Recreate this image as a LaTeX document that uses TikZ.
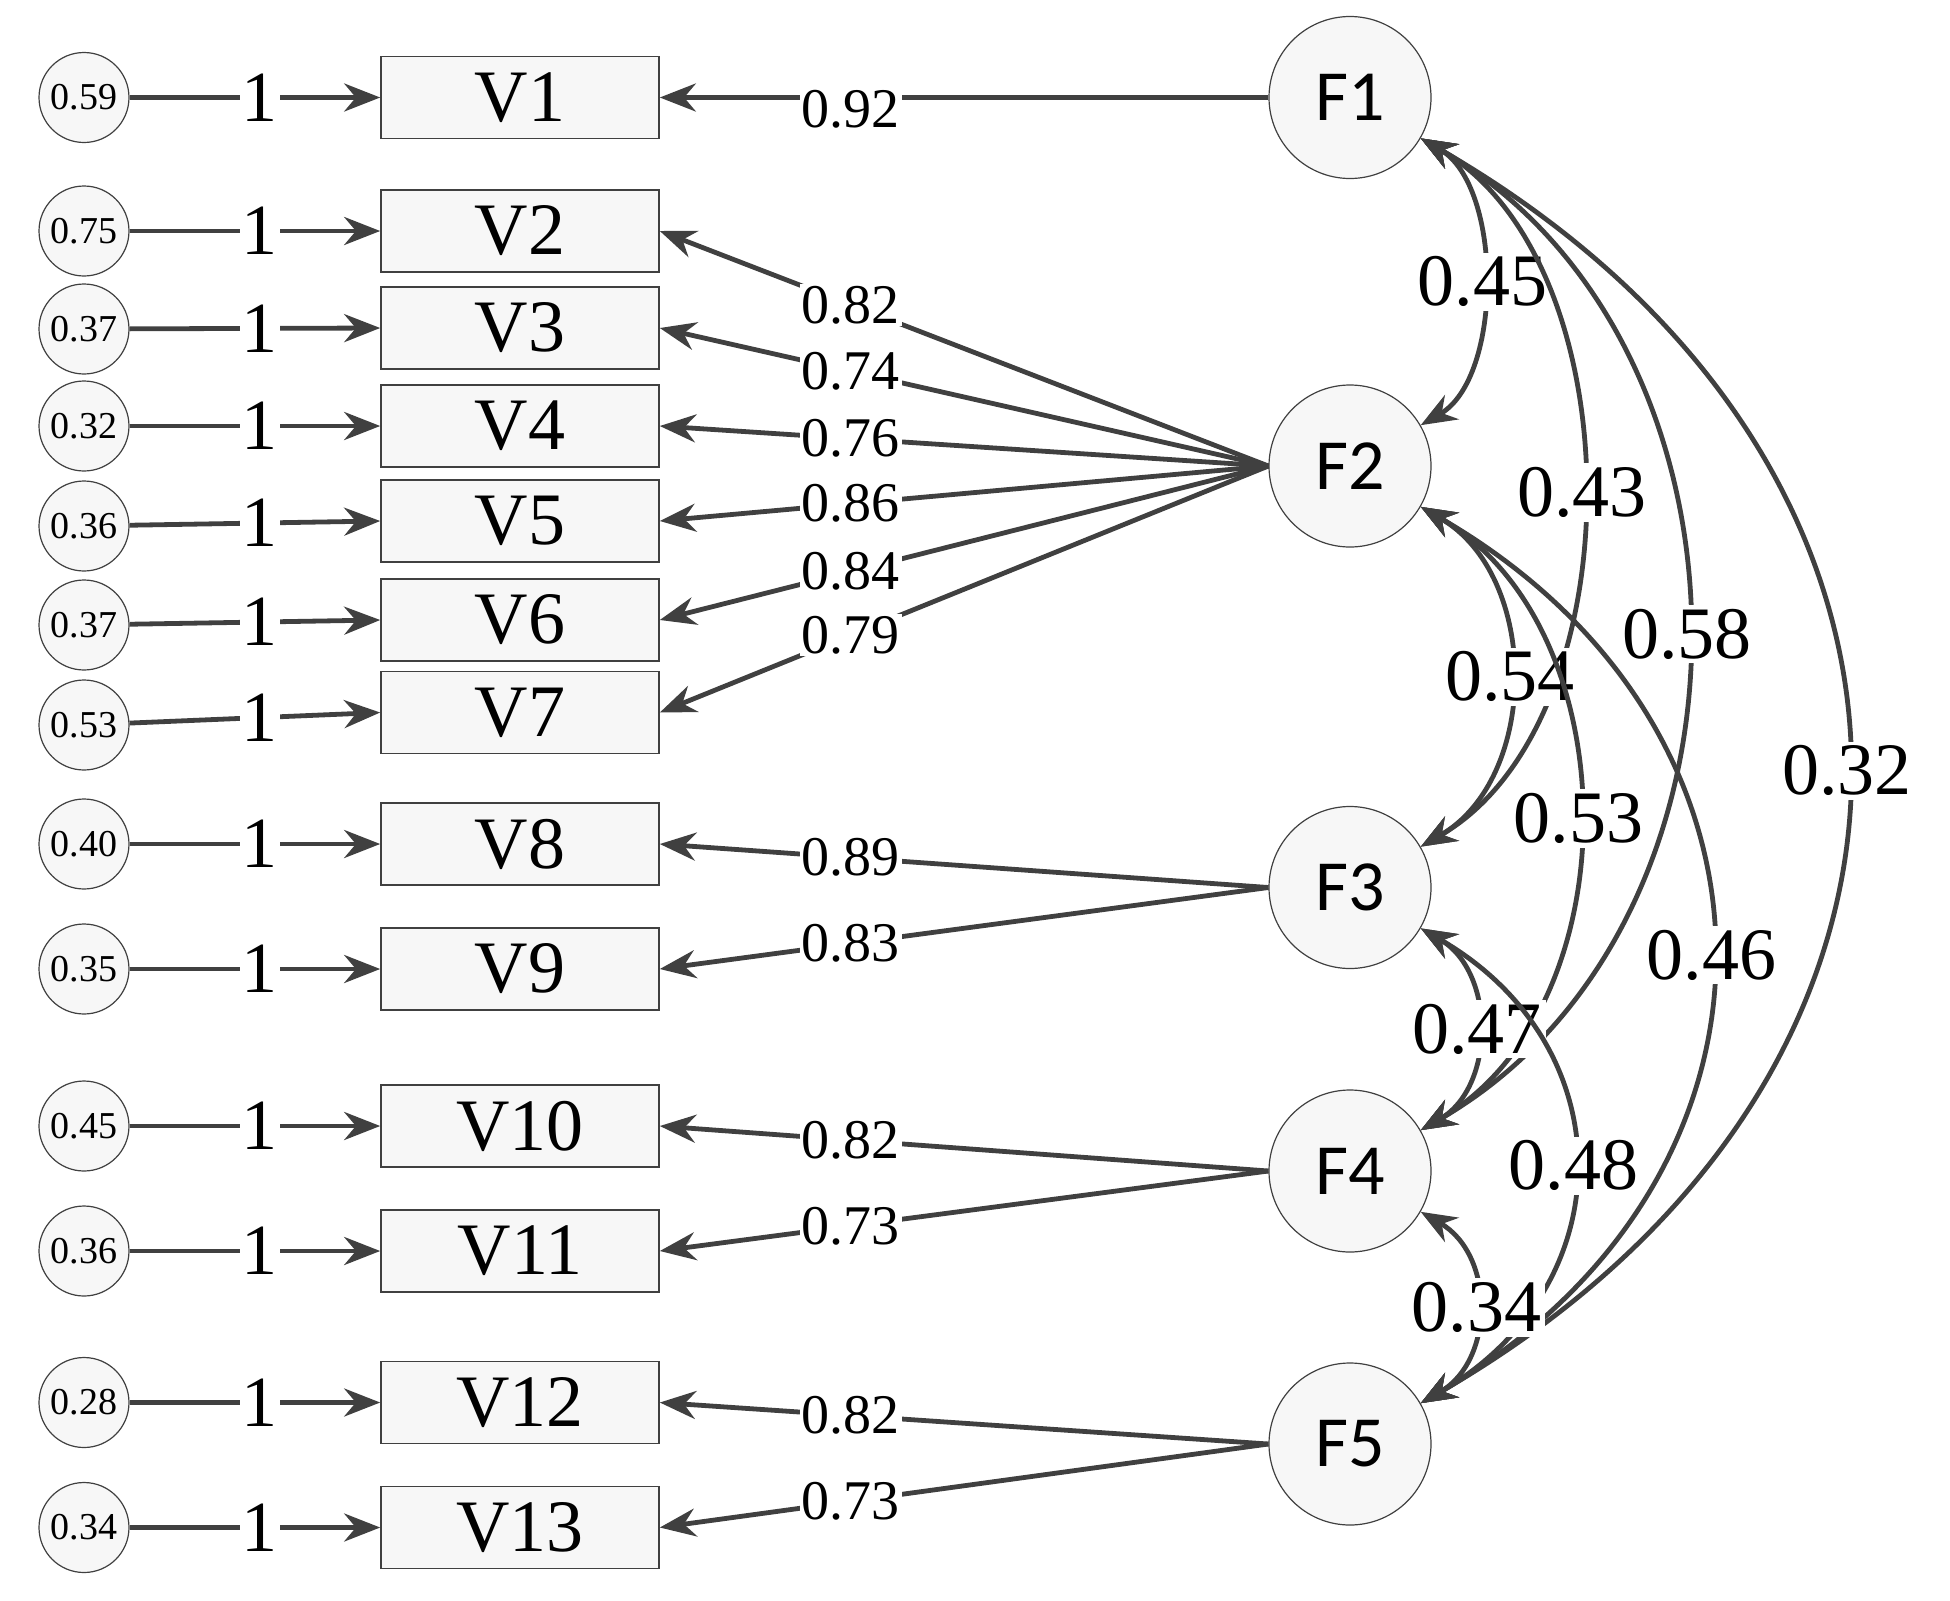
\documentclass[tikz,border=0pt]{standalone}
\usepackage{fontspec}
\setmainfont{Liberation Serif}
\newfontfamily\fsans{Carlito}
\usetikzlibrary{arrows.meta}
\begin{document}
\begin{tikzpicture}[x=0.5pt,y=-0.5pt,
  ln/.style={draw=black!75,line width=2.4pt},
  tip/.tip={Stealth[length=18pt,width=14pt]},
  arr/.style={ln,-tip},
  barr/.style={ln,tip-tip},
  err/.style={circle,draw=black!75,line width=0.6pt,fill=gray!6,minimum size=45pt,inner sep=0pt,font=\fontsize{19}{19}\selectfont},
  obs/.style={rectangle,draw=black!75,line width=0.8pt,fill=gray!6,minimum width=139pt,minimum height=41pt,inner sep=0pt,font=\fontsize{37}{37}\selectfont},
  fac/.style={circle,draw=black!75,line width=0.6pt,fill=gray!6,minimum size=81pt,inner sep=0pt,font=\fsans\fontsize{36}{36}\selectfont},
  one/.style={fill=white,inner sep=1pt,font=\fontsize{36}{36}\selectfont},
  ld/.style={fill=white,inner sep=1pt,font=\fontsize{28}{28}\selectfont},
  cv/.style={fill=white,inner sep=2pt,font=\fontsize{37}{37}\selectfont}]
\useasboundingbox (0,0) rectangle (1950,1601);
% observed
\foreach \i/\y/\ey/\e in {1/97.5/97.5/0.59,2/231/231/0.75,3/328/329/0.37,4/426/426/0.32,5/521/526/0.36,6/620/625/0.37,7/712.5/725/0.53,8/844/844/0.40,9/969/969/0.35,10/1126/1126/0.45,11/1251/1251/0.36,12/1402.5/1402.5/0.28,13/1527.5/1527.5/0.34}{
  \node[obs] (V\i) at (520,\y) {V\i};
  \node[err] (e\i) at (84,\ey) {\e};
  \draw[arr] (e\i) -- node[one,pos=0.52]{1} (V\i.west);
}
% factors
\node[fac] (F1) at (1350,97.5) {F1};
\node[fac] (F2) at (1350,466) {F2};
\node[fac] (F3) at (1350,887.5) {F3};
\node[fac] (F4) at (1350,1171) {F4};
\node[fac] (F5) at (1350,1444) {F5};
% loadings
\draw[arr] (F1.west) -- node[ld,pos=0.686,yshift=-6pt]{0.92} (V1.east);
\foreach \v/\l in {2/0.82,3/0.74,4/0.76,5/0.86,6/0.84,7/0.79}{
  \draw[arr] (F2.west) -- node[ld,pos=0.686]{\l} (V\v.east);}
\draw[arr] (F3.west) -- node[ld,pos=0.686]{0.89} (V8.east);
\draw[arr] (F3.west) -- node[ld,pos=0.686]{0.83} (V9.east);
\draw[arr] (F4.west) -- node[ld,pos=0.686]{0.82} (V10.east);
\draw[arr] (F4.west) -- node[ld,pos=0.686]{0.73} (V11.east);
\draw[arr] (F5.west) -- node[ld,pos=0.686]{0.82} (V12.east);
\draw[arr] (F5.west) -- node[ld,pos=0.686]{0.73} (V13.east);
% covariances
\draw[barr] (F1) to[bend left=60,looseness=0.85] node[cv]{0.45} (F2);
\draw[barr] (F1) to[bend left=60,looseness=0.9] node[cv]{0.43} (F3);
\draw[barr] (F1) to[bend left=60,looseness=1.06] node[cv]{0.58} (F4);
\draw[barr] (F1) to[bend left=60,looseness=1.33] node[cv]{0.32} (F5);
\draw[barr] (F2) to[bend left=60,looseness=1.04] node[cv]{0.54} (F3);
\draw[barr] (F2) to[bend left=60,looseness=1.0] node[cv]{0.53} (F4);
\draw[barr] (F2) to[bend left=60,looseness=1.28] node[cv]{0.46} (F5);
\draw[barr] (F3) to[bend left=60,looseness=1.1] node[cv]{0.47} (F4);
\draw[barr] (F3) to[bend left=60,looseness=1.27] node[cv]{0.48} (F5);
\draw[barr] (F4) to[bend left=60,looseness=1.15] node[cv]{0.34} (F5);
\end{tikzpicture}
\end{document}
